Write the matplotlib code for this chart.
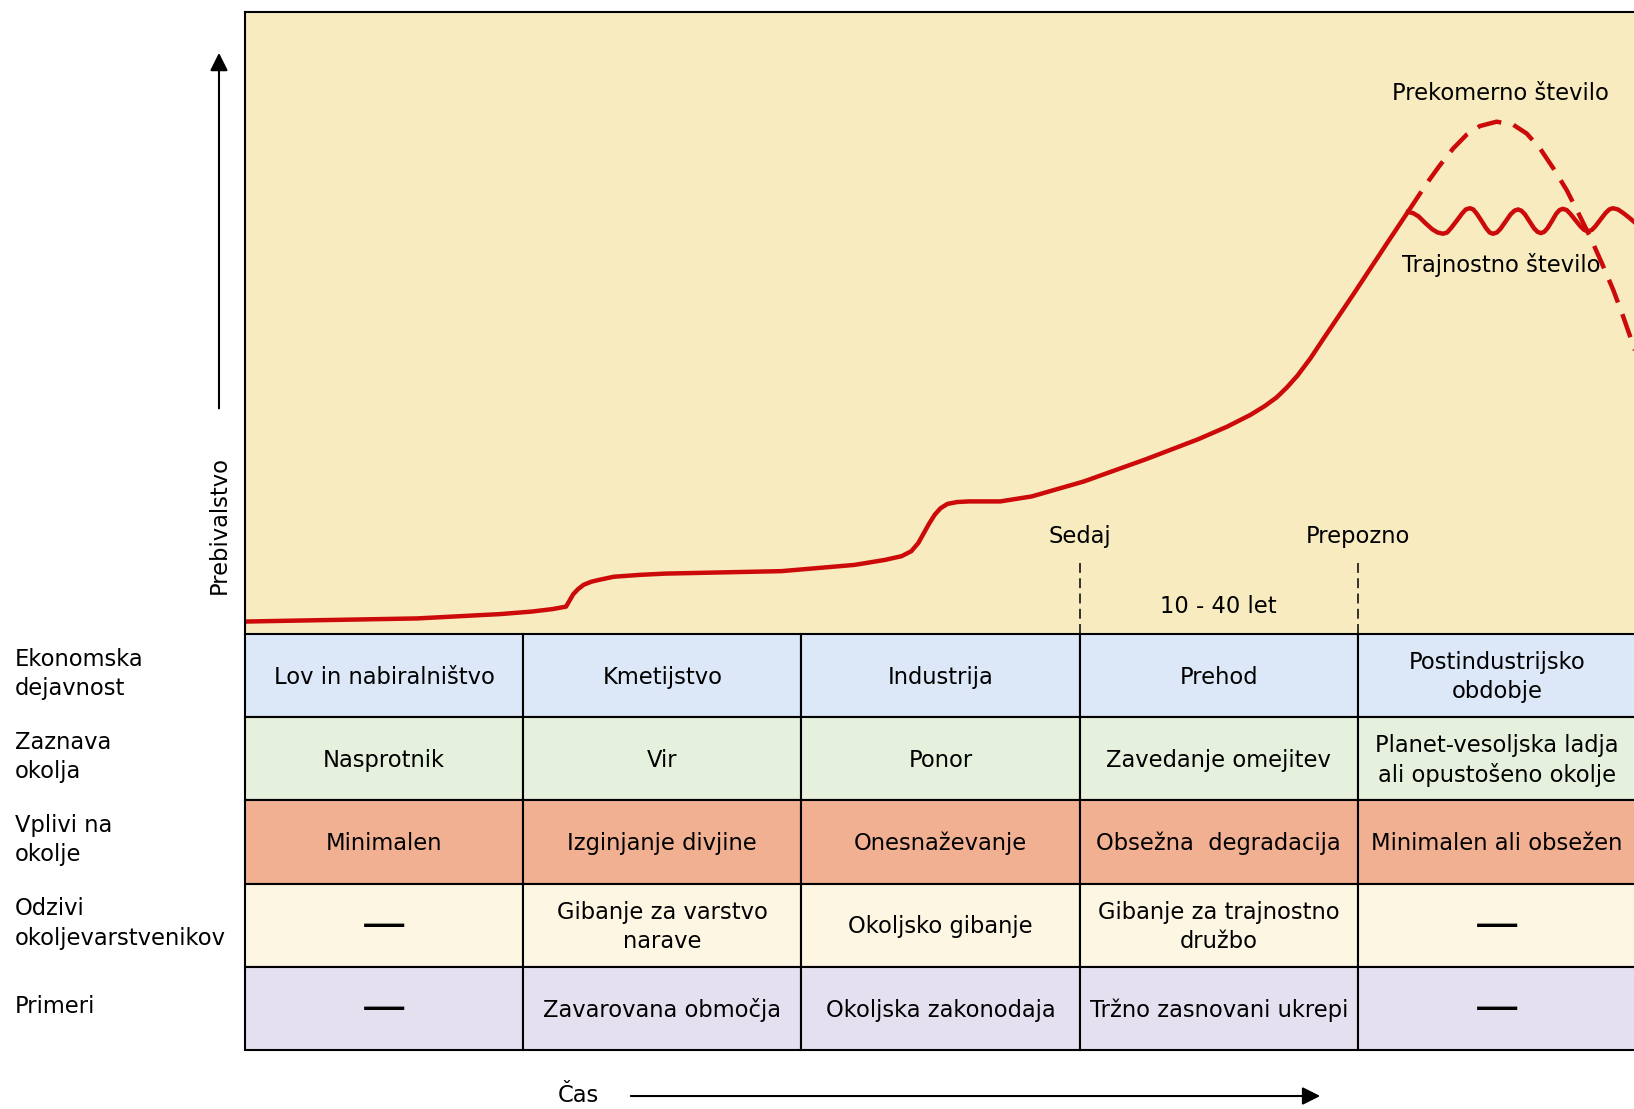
import matplotlib.pyplot as plt
from matplotlib.patches import Rectangle

plt.rcParams['font.family'] = ['DejaVu Sans']

# population curve, time in era units (one table column = 1), population 0-100
time_main = [0.0, 0.243, 0.618, 0.918, 1.03, 1.105, 1.154, 1.167, 1.180, 1.197,
             1.217, 1.245, 1.273, 1.326, 1.42, 1.509, 1.929, 2.191, 2.30, 2.360,
             2.395, 2.420, 2.440, 2.460, 2.480, 2.500, 2.525, 2.560, 2.603, 2.715,
             2.828, 3.015, 3.240, 3.427, 3.53, 3.614, 3.665, 3.708, 3.745, 3.783,
             3.83, 3.876, 3.989, 4.101, 4.180]
pop_main = [2.0, 2.2, 2.5, 3.2, 3.6, 4.0, 4.4, 5.4, 6.4, 7.2,
            7.9, 8.4, 8.7, 9.2, 9.5, 9.7, 10.1, 11.1, 11.9, 12.5,
            13.3, 14.6, 16.2, 17.8, 19.2, 20.2, 20.9, 21.2, 21.3, 21.3,
            22.1, 24.5, 28.1, 31.3, 33.3, 35.2, 36.6, 38.0, 39.6, 41.5,
            44.3, 47.4, 54.9, 62.5, 67.8]

# sustainable (wavy) branch
time_sust = [4.180, 4.199, 4.218, 4.243, 4.268, 4.287, 4.306,
             4.321, 4.335, 4.355, 4.374, 4.388, 4.403,
             4.415, 4.428, 4.445, 4.461, 4.474, 4.486,
             4.500, 4.513, 4.531, 4.549, 4.563, 4.576,
             4.588, 4.601, 4.617, 4.633, 4.646, 4.658,
             4.670, 4.682, 4.698, 4.713, 4.725, 4.737,
             4.751, 4.764, 4.782, 4.800, 4.814, 4.827,
             4.841, 4.854, 4.872, 4.890, 4.904, 4.917,
             4.935, 4.955, 4.975, 4.996]
pop_sust = [67.8, 67.6, 67.1, 66.0, 65.0, 64.5, 64.3,
            64.5, 65.2, 66.35, 67.5, 68.2, 68.4,
            68.2, 67.5, 66.35, 65.2, 64.5, 64.3,
            64.5, 65.1, 66.25, 67.4, 68.0, 68.2,
            68.0, 67.4, 66.3, 65.2, 64.6, 64.4,
            64.6, 65.2, 66.35, 67.5, 68.1, 68.3,
            68.1, 67.5, 66.5, 65.5, 64.9, 64.7,
            64.9, 65.5, 66.55, 67.6, 68.2, 68.4,
            68.2, 67.6, 66.9, 66.1]

# overshoot (dashed) branch
time_over = [4.180, 4.217, 4.253, 4.295, 4.343, 4.391, 4.439, 4.499, 4.559, 4.607,
             4.655, 4.703, 4.751, 4.793, 4.835, 4.877, 4.918, 4.954, 4.996]
pop_over = [67.8, 70.3, 72.7, 75.3, 78.0, 80.2, 81.6, 82.3, 81.8, 80.4,
            78.0, 74.8, 71.3, 67.6, 63.8, 59.6, 55.3, 51.0, 45.6]

row_labels = ['Ekonomska\ndejavnost', 'Zaznava\nokolja', 'Vplivi na\nokolje',
              'Odzivi\nokoljevarstvenikov', 'Primeri']
row_colors = ['#dce8f8', '#e5f1dc', '#f2b092', '#fcf6e3', '#e5e0f0']
cells = [
    ['Lov in nabiralništvo', 'Kmetijstvo', 'Industrija', 'Prehod', 'Postindustrijsko\nobdobje'],
    ['Nasprotnik', 'Vir', 'Ponor', 'Zavedanje omejitev', 'Planet-vesoljska ladja\nali opustošeno okolje'],
    ['Minimalen', 'Izginjanje divjine', 'Onesnaževanje', 'Obsežna  degradacija', 'Minimalen ali obsežen'],
    ['—', 'Gibanje za varstvo\nnarave', 'Okoljsko gibanje', 'Gibanje za trajnostno\ndružbo', '—'],
    ['—', 'Zavarovana območja', 'Okoljska zakonodaja', 'Tržno zasnovani ukrepi', '—'],
]
marks = ['Sedaj', 'Prepozno']
mark_times = [3, 4]

red = '#cc0a0a'
fs = 16.3
W, H = 1634, 1109

fig = plt.figure(figsize=(W / 100, H / 100), dpi=100)

# top panel
ax = fig.add_axes([245 / W, 1 - 634 / H, 1391 / W, 622.5 / H])
ax.set_facecolor('#f7ebbf')
ax.set_xlim(0, 5)
ax.set_ylim(0, 100)
ax.set_xticks([])
ax.set_yticks([])
for s in ['right', 'bottom']:
    ax.spines[s].set_visible(False)
for s in ['left', 'top']:
    ax.spines[s].set_linewidth(1.5)

ax.plot(time_main, pop_main, color=red, lw=3.2, solid_capstyle='round', solid_joinstyle='round')
ax.plot(time_sust, pop_sust, color=red, lw=3.2, solid_joinstyle='round')
ax.plot(time_over, pop_over, color=red, lw=3.2, linestyle=(0, (5.5, 2.8)))

for t, m in zip(mark_times, marks):
    ax.plot([t, t], [0, 11.4], color='black', lw=1.1, linestyle=(0, (6.5, 3.5)))
    ax.text(t, 15.6, m, ha='center', va='center', fontsize=fs)
ax.text(3.5, 4.4, '10 - 40 let', ha='center', va='center', fontsize=fs)
ax.text(4.511, 86.8, 'Prekomerno število', ha='center', va='center', fontsize=fs)
ax.text(4.515, 59.3, 'Trajnostno število', ha='center', va='center', fontsize=fs)

ax.annotate('', xy=(-0.0935, 93.8), xytext=(-0.0935, 35.8), annotation_clip=False,
            arrowprops=dict(arrowstyle='-|>,head_length=0.6,head_width=0.3',
                            mutation_scale=18, color='black', lw=1.5))
ax.text(-0.0935, 6.4, 'Prebivalstvo', rotation=90, ha='center', va='bottom',
        fontsize=fs, clip_on=False)

# table
tab = fig.add_axes([245 / W, 1 - 1050 / H, 1391 / W, 416 / H])
tab.set_xlim(0, 5)
tab.set_ylim(5, 0)
tab.axis('off')
for r, row in enumerate(cells):
    for c, txt in enumerate(row):
        tab.add_patch(Rectangle((c, r), 1, 1, facecolor=row_colors[r],
                                edgecolor='black', lw=1.5, clip_on=False))
        if txt == '—':
            tab.text(c + 0.5, r + 0.5, txt, ha='center', va='center', fontsize=32)
        else:
            tab.text(c + 0.5, r + 0.52, txt, ha='center', va='center',
                     fontsize=fs, linespacing=1.35)
    tab.text(-0.827, r + 0.48, row_labels[r], ha='left', va='center',
             fontsize=fs, linespacing=1.35, clip_on=False)

tab.text(1.197, 5.55, 'Čas', ha='center', va='center', fontsize=fs, clip_on=False)
tab.annotate('', xy=(3.875, 5.553), xytext=(1.377, 5.553), annotation_clip=False,
             arrowprops=dict(arrowstyle='-|>,head_length=0.6,head_width=0.3',
                             mutation_scale=18, color='black', lw=1.5))

fig.savefig('out.png', dpi=100, facecolor='white')
